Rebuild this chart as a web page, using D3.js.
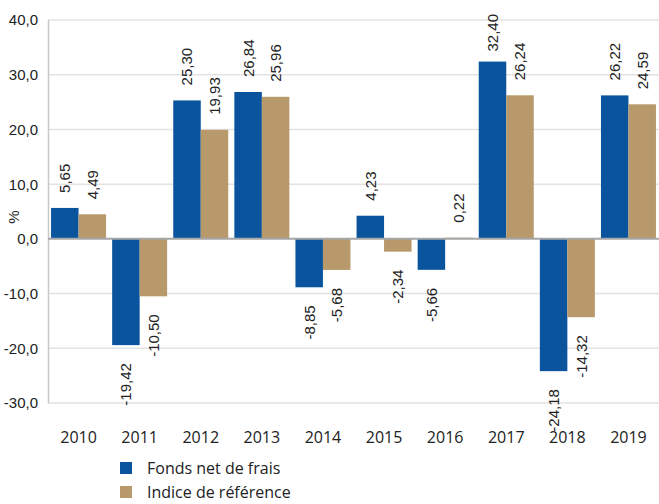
<!DOCTYPE html>
<html>
<head>
<meta charset="utf-8">
<script src="https://cdn.jsdelivr.net/npm/d3@7"></script>
<style>
  body { margin: 0; background: #fff; }
  svg { display: block; }
</style>
</head>
<body>
<svg id="chart" width="659" height="504"></svg>
<script>
const years = ['2010', '2011', '2012', '2013', '2014', '2015', '2016', '2017', '2018', '2019'];
const fonds = [5.65, -19.42, 25.30, 26.84, -8.85, 4.23, -5.66, 32.40, -24.18, 26.22];
const indice = [4.49, -10.50, 19.93, 25.96, -5.68, -2.34, 0.22, 26.24, -14.32, 24.59];
const seriesNames = ['Fonds net de frais', 'Indice de référence'];
const yTicks = [-30, -20, -10, 0, 10, 20, 30, 40];

const colors = ['#0a549e', '#b7996c'];
const margin = { top: 20, right: 0, bottom: 101, left: 48 };
const width = 659, height = 504;

const fr = d3.formatLocale({ decimal: ',', thousands: ' ', grouping: [3], currency: ['', ' €'], minus: '-' });
const fmtTick = fr.format('.1f');
const fmtVal = fr.format('.2f');

const svg = d3.select('#chart');

const x0 = d3.scaleBand().domain(years)
    .range([margin.left, width - margin.right])
    .paddingInner(0.1).paddingOuter(0.05);
const x1 = d3.scaleBand().domain([0, 1]).range([0, x0.bandwidth()]);
const y = d3.scaleLinear().domain([-30, 40]).range([height - margin.bottom, margin.top]);

// gridlines
svg.append('g')
    .selectAll('line')
    .data(yTicks.filter(d => d !== 0))
    .enter().append('line')
    .attr('x1', margin.left).attr('x2', width - margin.right)
    .attr('y1', d => y(d)).attr('y2', d => y(d))
    .attr('stroke', '#e3e3e3').attr('stroke-width', 1.5);

// left axis line
svg.append('line')
    .attr('x1', margin.left + 0.5).attr('x2', margin.left + 0.5)
    .attr('y1', y(40)).attr('y2', y(-30))
    .attr('stroke', '#c8c8c8').attr('stroke-width', 1.5);

// tick labels
svg.append('g')
    .selectAll('text')
    .data(yTicks)
    .enter().append('text')
    .attr('x', margin.left - 10)
    .attr('y', d => y(d))
    .attr('dy', '0.36em')
    .attr('text-anchor', 'end')
    .attr('font-family', 'Liberation Sans, Arial, sans-serif')
    .attr('font-size', 15)
    .attr('fill', '#222')
    .text(d => fmtTick(d));

svg.append('text')
    .attr('transform', `translate(19,${y(4)}) rotate(-90)`)
    .attr('text-anchor', 'middle')
    .attr('font-family', 'Liberation Sans, Arial, sans-serif')
    .attr('font-size', 15)
    .attr('fill', '#222')
    .text('%');

const data = years.map((yr, i) => ({ year: yr, values: [fonds[i], indice[i]] }));

const groups = svg.append('g')
    .selectAll('g')
    .data(data)
    .enter().append('g')
    .attr('transform', d => `translate(${x0(d.year)},0)`);

groups.selectAll('rect')
    .data(d => d.values.map((v, k) => ({ v, k })))
    .enter().append('rect')
    .attr('x', d => x1(d.k))
    .attr('width', x1.bandwidth())
    .attr('y', d => y(Math.max(0, d.v)))
    .attr('height', d => Math.abs(y(d.v) - y(0)))
    .attr('fill', d => colors[d.k]);

// zero line
svg.append('line')
    .attr('x1', margin.left).attr('x2', width - margin.right)
    .attr('y1', y(0)).attr('y2', y(0))
    .attr('stroke', '#a6a6a6').attr('stroke-width', 2);

// value labels
groups.selectAll('text.val')
    .data(d => d.values.map((v, k) => ({ v, k })))
    .enter().append('text')
    .attr('class', 'val')
    .attr('font-family', 'Liberation Sans, Arial, sans-serif')
    .attr('font-size', 15)
    .attr('fill', '#222')
    .attr('text-anchor', d => d.v >= 0 ? 'start' : 'end')
    .attr('dy', '0.36em')
    .text(d => fmtVal(d.v))
    .attr('transform', function (d) {
        const cx = x1(d.k) + x1.bandwidth() / 2;
        let py;
        if (d.v >= 0) {
            py = y(d.v) - 15;
            const len = this.getComputedTextLength();
            py = Math.max(py, 14 + len);
        } else {
            py = y(d.v) + 18;
        }
        return `translate(${cx},${py}) rotate(-90)`;
    });

// year labels
svg.append('g')
    .selectAll('text')
    .data(years)
    .enter().append('text')
    .attr('x', d => x0(d) + x0.bandwidth() / 2)
    .attr('y', 443)
    .attr('text-anchor', 'middle')
    .attr('font-family', 'Open Sans, Noto Sans, sans-serif')
    .attr('font-size', 16)
    .attr('fill', '#222')
    .text(d => d);

// legend
const legend = svg.append('g')
    .selectAll('g')
    .data(seriesNames)
    .enter().append('g')
    .attr('transform', (d, i) => `translate(120,${462 + i * 24})`);

legend.append('rect')
    .attr('width', 12).attr('height', 12)
    .attr('fill', (d, i) => colors[i]);

legend.append('text')
    .attr('x', 27)
    .attr('y', 11.5)
    .attr('font-family', 'Open Sans, Noto Sans, sans-serif')
    .attr('font-size', 16)
    .attr('fill', '#222')
    .text(d => d);
</script>
</body>
</html>
